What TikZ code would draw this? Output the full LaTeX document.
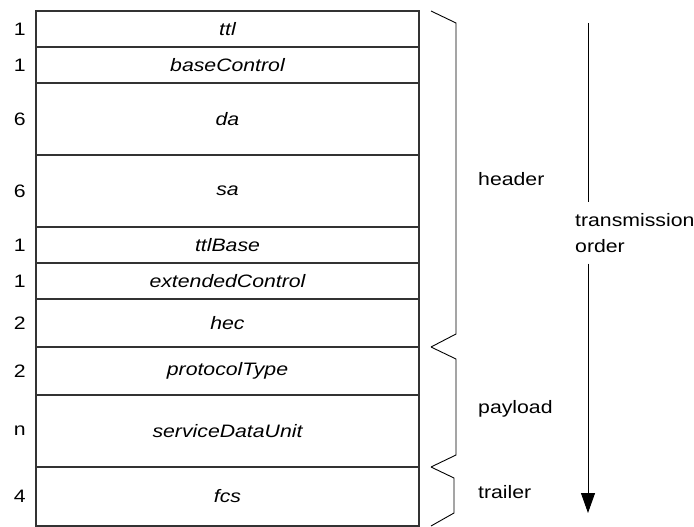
\documentclass[tikz,border=0pt]{standalone}
\usepackage{fontspec}
\setmainfont{Liberation Sans}
\usetikzlibrary{positioning,arrows.meta}
\newcommand\wide[1]{\scalebox{1.18}[1]{#1}}
\tikzset{
        field/.style={draw=black!80, line width=1.1pt, minimum width=383pt, inner sep=0pt, outer sep=0pt,
          font=\fontsize{18}{26}\selectfont\itshape},
        size/.style={inner sep=0pt, font=\fontsize{18}{26}\selectfont},
        note/.style={inner sep=0pt, font=\fontsize{18}{26}\selectfont},
        brace/.style={draw=black, line width=0.9pt, line join=miter},
        axis/.style={draw=black, line width=0.9pt}
          }

\begin{document}
\begin{tikzpicture}[x=1pt, y=-1pt]
        \useasboundingbox (0,0) rectangle (694,527);
        % frame fields
        \node[field, minimum height=36pt] (ttl) at (227.5,29) {\wide{ttl}};
        \node[field, minimum height=36pt, below=0pt of ttl] (basectl) {\wide{baseControl}};
        \node[field, minimum height=72pt, below=0pt of basectl] (da) {\wide{da}};
        \node[field, minimum height=72pt, below=0pt of da] (sa) {\wide{sa}};
        \node[field, minimum height=36pt, below=0pt of sa] (ttlbase) {\wide{ttlBase}};
        \node[field, minimum height=36pt, below=0pt of ttlbase] (extctl) {\wide{extendedControl}};
        \node[field, minimum height=48pt, below=0pt of extctl] (hec) {\wide{hec}};
        \node[field, minimum height=48pt, below=0pt of hec] (ptype) {\wide{protocolType}};
        \node[field, minimum height=72pt, below=0pt of ptype] (sdu) {\wide{serviceDataUnit}};
        \node[field, minimum height=59pt, below=0pt of sdu] (fcs) {\wide{fcs}};

        % sizes
        \node[size, left=10pt of ttl] (nttl) {\wide{1}};
        \node[size, left=10pt of basectl] (nbasectl) {\wide{1}};
        \node[size, left=10pt of da] (nda) {\wide{6}};
        \node[size, left=10pt of sa] (nsa) {\wide{6}};
        \node[size, left=10pt of ttlbase] (nttlbase) {\wide{1}};
        \node[size, left=10pt of extctl] (nextctl) {\wide{1}};
        \node[size, left=10pt of hec] (nhec) {\wide{2}};
        \node[size, left=10pt of ptype] (nptype) {\wide{2}};
        \node[size, left=10pt of sdu] (nsdu) {\wide{n}};
        \node[size, left=10pt of fcs] (nfcs) {\wide{4}};

        % braces
        \draw[brace] ([xshift=12pt]ttl.north east) -- ([xshift=37pt,yshift=-12pt]ttl.north east)
          -- ([xshift=37pt,yshift=13pt]hec.south east) -- ([xshift=12pt]hec.south east);
        \draw[brace] ([xshift=12pt]ptype.north east) -- ([xshift=37pt,yshift=-12pt]ptype.north east)
          -- ([xshift=37pt,yshift=12pt]sdu.south east) -- ([xshift=12pt]sdu.south east);
        \draw[brace] ([xshift=12pt]fcs.north east) -- ([xshift=35pt,yshift=-11pt]fcs.north east)
          -- ([xshift=35pt,yshift=13pt]fcs.south east) -- ([xshift=12pt]fcs.south east);

        \node[note, anchor=base west] (header) at (478,185) {\wide{header}};
        \node[note, anchor=base west] (payload) at (478,413) {\wide{payload}};
        \node[note, anchor=base west] (trailer) at (478,498) {\wide{trailer}};

        % transmission order
        \coordinate (arrtop) at (588,23);
        \coordinate (arrend) at (588,513);
        \node[note, align=left, anchor=north west, inner ysep=11pt] (order) at (575,202)
          {\wide{transmission}\\\wide{order}};
        \draw[axis] (arrtop) -- (order.north -| arrtop);
        \draw[axis, -{Triangle[width=14pt, length=20pt]}] (order.south -| arrtop) -- (arrend);
\end{tikzpicture}
\end{document}
